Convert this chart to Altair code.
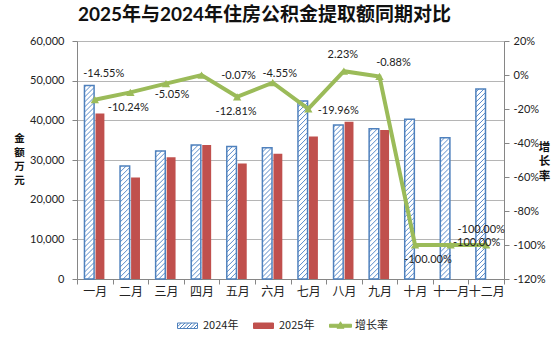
import altair as alt
import pandas as pd

# ---------------- data ----------------
months = ["一月", "二月", "三月", "四月", "五月", "六月",
          "七月", "八月", "九月", "十月", "十一月", "十二月"]
v2024 = [48800, 28500, 32300, 33800, 33400, 33100,
         44900, 38800, 37900, 40300, 35600, 47900]
v2025 = [41700, 25600, 30700, 33780, 29100, 31600,
         35940, 39670, 37570, None, None, None]
growth = [-14.55, -10.24, -5.05, -0.07, -12.81, -4.55,
          -19.96, 2.23, -0.88, -100.00, -100.00, -100.00]
series_names = ["2024年", "2025年", "增长率"]
left_ticks = [0, 10000, 20000, 30000, 40000, 50000, 60000]
right_ticks = [-120, -100, -80, -60, -40, -20, 0, 20]

# ---------------- geometry / style ----------------
W, H = 427, 238
Y_MAX = 60000
X_MIN, X_MAX = -0.5, len(months) - 0.5
px_x = W / (X_MAX - X_MIN)
px_y = H / Y_MAX
B24 = (-0.29, -0.02)
B25 = (0.02, 0.27)
BLUE, RED, GREEN = "#4F81BD", "#C0504D", "#9BBB59"
FONT = "Lato, 'Noto Sans CJK SC', sans-serif"
CJK = "'Noto Sans CJK SC', sans-serif"
AXC = "#868686"
label_offsets = [(9, -26), (-2, 16), (6, 11), (37, 1), (-1, 15), (7, -9),
                 (30, 2), (-1, -16), (14, -13), (13, 15), (26, -2), (-5, -15)]

idx = list(range(len(months)))
df = pd.DataFrame({"idx": idx, "month": months, "v2024": v2024,
                   "v2025": v2025, "growth": growth})
df["x24a"] = df["idx"] + B24[0]
df["x24b"] = df["idx"] + B24[1]
df["x25a"] = df["idx"] + B25[0]
df["x25b"] = df["idx"] + B25[1]
df["label"] = [f"{g:.2f}%" for g in growth]

# hatch segments ("/" at 45 degrees) derived from the 2024 bar values
rows = []
step = 5.0
bw = (B24[1] - B24[0]) * px_x
for i, v in zip(idx, v2024):
    T = v * px_y
    c = -bw + 1.5
    while c < T:
        a = max(0.0, -c)
        b = min(bw, T - c)
        if b > a:
            rows.append({"hx1": i + B24[0] + a / px_x, "hx2": i + B24[0] + b / px_x,
                         "hy1": (c + a) / px_y, "hy2": (c + b) / px_y})
        c += step
hatch = pd.DataFrame(rows)

# ---------------- scales / axes ----------------
x_scale = alt.Scale(domain=[X_MIN, X_MAX], nice=False, zero=False)
month_js = "[" + ",".join(f"'{m}'" for m in months) + "]"
x_axis = alt.Axis(
    values=[X_MIN + k for k in range(len(months) + 1)],
    labelExpr=f"datum.value > {X_MAX - 1} ? '' : {month_js}[round(datum.value + 0.5)]",
    labelOffset=px_x / 2, labelFlush=False, labelOverlap=False, labelBound=False,
    grid=False, tickSize=5, tickColor=AXC, domainColor=AXC,
    labelFont=CJK, labelFontSize=12, labelColor="#222", labelPadding=2, title=None)

left_scale = alt.Scale(domain=[0, Y_MAX], nice=False, zero=True)
left_axis = alt.Axis(
    values=left_ticks, labelExpr="format(datum.value, ',')", grid=True,
    gridColor="#b5b5b5",
    tickSize=5, tickColor=AXC, domainColor=AXC, labelPadding=8,
    labelFont=FONT, labelFontSize=11, labelColor="#222",
    title=["金", "额", "万", "元"], titleAngle=0, titleX=-58, titleY=92,
    titleBaseline="top", titleAlign="center", titleLineHeight=14,
    titleFont=CJK, titleFontSize=10.5, titleFontWeight="bold", titleColor="#111")

right_scale = alt.Scale(domain=[-120, 20], nice=False, zero=False)
right_axis = alt.Axis(
    orient="right", values=right_ticks, labelExpr="datum.value + '%'", grid=False,
    tickSize=5, tickColor=AXC, domainColor=AXC, labelPadding=4,
    labelFont=FONT, labelFontSize=11, labelColor="#222",
    title=["增", "长", "率"], titleAngle=0, titleX=40, titleY=100,
    titleBaseline="top", titleAlign="center", titleLineHeight=14.5,
    titleFont=CJK, titleFontSize=11.5, titleFontWeight="bold", titleColor="#111")

base = alt.Chart(df)

bar24_fill = base.mark_rect(fill="white").encode(
    x=alt.X("x24a:Q", scale=x_scale, axis=x_axis), x2="x24b:Q",
    y=alt.Y("v2024:Q", scale=left_scale, axis=left_axis), y2=alt.datum(0))

hatch_layer = alt.Chart(hatch).mark_rule(color="#5a8ccc", strokeWidth=1).encode(
    x=alt.X("hx1:Q", scale=x_scale, axis=x_axis), x2="hx2:Q",
    y=alt.Y("hy1:Q", scale=left_scale, axis=left_axis), y2="hy2:Q")

bar24_outline = base.mark_rect(fillOpacity=0, stroke=BLUE, strokeWidth=1.5).encode(
    x=alt.X("x24a:Q", scale=x_scale, axis=x_axis), x2="x24b:Q",
    y=alt.Y("v2024:Q", scale=left_scale, axis=left_axis), y2=alt.datum(0))

bar25 = base.mark_rect(color=RED).transform_filter("isValid(datum.v2025)").encode(
    x=alt.X("x25a:Q", scale=x_scale, axis=x_axis), x2="x25b:Q",
    y=alt.Y("v2025:Q", scale=left_scale, axis=left_axis), y2=alt.datum(0))

# legend (driven by library legend, custom symbols)
hatch_path = ("M-1,-0.55H3V0.55H-1Z "
              "M-1,0.2L-0.25,-0.55 M-0.6,0.55L0.5,-0.55 M0.1,0.55L1.2,-0.55 "
              "M0.8,0.55L1.9,-0.55 M1.5,0.55L2.6,-0.55 M2.2,0.55L3,-0.25")
box_path = "M-1,-0.55H3V0.55H-1Z"
line_path = "M-1,-0.3H3.4V0.3H-1Z M1.2,-0.8L1.9,0.5L0.5,0.5Z"
leg_df = pd.DataFrame({"series": series_names})
legend = alt.Legend(title=None, orient="none", legendX=100, legendY=279,
                    direction="horizontal", labelFont=CJK, labelFontSize=11,
                    labelColor="#222", symbolStrokeWidth=1, labelOffset=15,
                    columnPadding=12)
legend_layer = alt.Chart(leg_df).mark_point(filled=True, opacity=1, size=144).encode(
    shape=alt.Shape("series:N", scale=alt.Scale(domain=series_names,
                    range=[hatch_path, box_path, line_path]), legend=legend),
    fill=alt.Fill("series:N", scale=alt.Scale(domain=series_names,
                  range=["white", RED, GREEN]), legend=legend),
    stroke=alt.Stroke("series:N", scale=alt.Scale(domain=series_names,
                      range=[BLUE, RED, GREEN]), legend=legend),
).transform_filter("false")

left = alt.layer(bar24_fill, hatch_layer, bar24_outline, bar25, legend_layer)

line = base.mark_line(color=GREEN, strokeWidth=4).encode(
    x=alt.X("idx:Q", scale=x_scale, axis=x_axis),
    y=alt.Y("growth:Q", scale=right_scale, axis=right_axis))
pts = base.mark_point(shape="triangle-up", filled=True, size=70, color=GREEN,
                      opacity=1).encode(
    x=alt.X("idx:Q", scale=x_scale, axis=x_axis),
    y=alt.Y("growth:Q", scale=right_scale, axis=right_axis))
labels = []
for i, (dx, dy) in enumerate(label_offsets):
    labels.append(base.transform_filter(f"datum.idx == {i}").mark_text(
        dx=dx, dy=dy, font=FONT, fontSize=11, color="#222",
        align="center", baseline="middle").encode(
        x=alt.X("idx:Q", scale=x_scale, axis=x_axis),
        y=alt.Y("growth:Q", scale=right_scale, axis=right_axis),
        text="label:N"))
right = alt.layer(line, pts, *labels)

chart = alt.layer(left, right).resolve_scale(y="independent").properties(
    width=W, height=H,
    autosize=alt.AutoSizeParams(type="none"),
    padding={"left": 77, "top": 41, "right": 50, "bottom": 61},
    title=alt.TitleParams("2025年与2024年住房公积金提取额同期对比",
                          font="Lato, 'Noto Sans CJK SC'", fontSize=19,
                          fontWeight="bold", color="#111", anchor="middle",
                          dx=-26, offset=10),
).configure_view(stroke=None).configure(background="white")

chart.save("out.html", embed_options={"renderer": "svg", "actions": False})
